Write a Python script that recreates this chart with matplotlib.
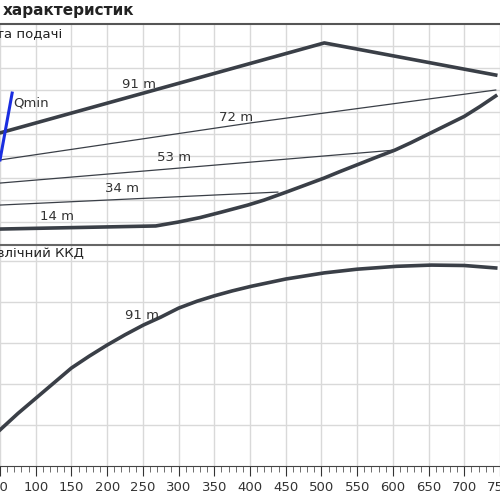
import matplotlib
matplotlib.use("Agg")
import matplotlib.pyplot as plt

# data (Q on x)
h91_x = [50, 504, 744]; h91_y = [5.05, 9.14, 7.68]
h72_x = [50, 400, 744]; h72_y = [3.82, 5.5, 7.0]
h53_x = [50, 603]; h53_y = [2.77, 4.27]
h34_x = [50, 439]; h34_y = [1.77, 2.36]
sys_x = [50, 268, 300, 330, 360, 397, 420, 450, 475, 504, 525, 550, 575, 603, 625, 650, 675, 700, 722, 744]
sys_y = [0.68, 0.82, 1.0, 1.2, 1.45, 1.77, 2.0, 2.35, 2.65, 3.0, 3.28, 3.6, 3.92, 4.27, 4.6, 5.0, 5.4, 5.8, 6.25, 6.73]
qmin_x = [50, 67]; qmin_y = [3.82, 6.86]
eff_x = [50, 75, 100, 125, 150, 175, 200, 225, 251, 275, 300, 326, 350, 375, 401, 450, 504, 550, 605, 654, 700, 744]
eff_y = [0.88, 1.28, 1.65, 2.02, 2.39, 2.68, 2.95, 3.2, 3.44, 3.63, 3.85, 4.02, 4.15, 4.27, 4.38, 4.56, 4.71, 4.8, 4.87, 4.9, 4.89, 4.83]
xticks = list(range(50, 751, 50))

dark = "#3a3f47"
fig = plt.figure(figsize=(5, 5), dpi=100)
ax1 = fig.add_axes([0, 0.512, 1, 0.44])
ax2 = fig.add_axes([0, 0.068, 1, 0.442])
for ax in (ax1, ax2):
    ax.set_xlim(50, 744.4)
    ax.set_xticks(xticks)
    ax.grid(True, color="#d9d9d9", lw=1)
    ax.set_axisbelow(True)
    for s in ("left", "right"):
        ax.spines[s].set_visible(False)
ax1.set_ylim(0, 10)
ax1.set_yticks(range(1, 10))
ax1.tick_params(left=False, labelleft=False, bottom=False, labelbottom=False)
ax1.spines["top"].set_color("#555555"); ax1.spines["top"].set_linewidth(1.5)
ax1.spines["bottom"].set_visible(False)
ax2.set_ylim(0, 5.39)
ax2.set_yticks(range(1, 6))
ax2.tick_params(left=False, labelleft=False)
ax2.spines["top"].set_color("#666666"); ax2.spines["top"].set_linewidth(1.5)
ax2.spines["bottom"].set_color("#444444")
ax2.set_xticks(range(50, 751, 10), minor=True)
ax2.tick_params(axis="x", which="major", direction="out", length=7, labelsize=9.5, colors="#333333")
ax2.tick_params(axis="x", which="minor", direction="out", length=4, color="#555555")

ax1.plot(h91_x, h91_y, color=dark, lw=2.6, solid_joinstyle="round")
ax1.plot(h72_x, h72_y, color=dark, lw=0.9)
ax1.plot(h53_x, h53_y, color=dark, lw=0.9)
ax1.plot(h34_x, h34_y, color=dark, lw=0.9)
ax1.plot(sys_x, sys_y, color=dark, lw=2.6, solid_joinstyle="round")
ax1.plot(qmin_x, qmin_y, color="#1a2ee0", lw=2.2)
ax1.text(68, 6.4, "Qmin", color="#333333", fontsize=9.5, va="center")
for x, y, t in [(244, 7.27, "91 m"), (380, 5.77, "72 m"), (293, 3.95, "53 m"),
                (221, 2.5, "34 m"), (130, 1.23, "14 m")]:
    ax1.text(x, y, t, color="#333333", fontsize=9.5, ha="center", va="center")
ax2.plot(eff_x, eff_y, color=dark, lw=2.6, solid_joinstyle="round")
ax2.text(249, 3.66, "91 m", color="#333333", fontsize=9.5, ha="center", va="center")

fig.text(0.006, 0.98, "характеристик", fontsize=11, fontweight="bold", va="center", color="#222222")
fig.text(0.124, 0.932, "Висота подачі", fontsize=9.5, ha="right", va="center", color="#222222")
fig.text(0.168, 0.492, "Гідравлічний ККД", fontsize=9.5, ha="right", va="center", color="#222222")
fig.savefig("out.png", dpi=100)
